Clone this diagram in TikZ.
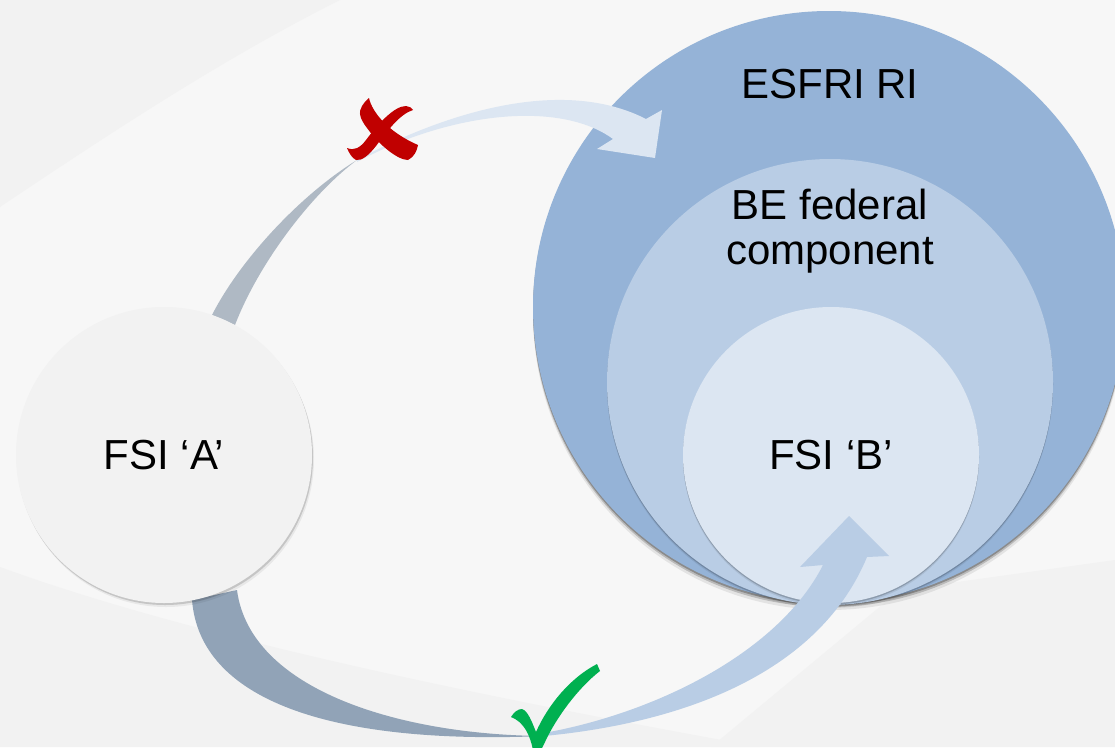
\documentclass[tikz,border=0pt]{standalone}
\usepackage{fontspec}
\setmainfont{Liberation Sans}
\usetikzlibrary{shadows}
\definecolor{bgbase}{HTML}{F7F7F7}
\definecolor{bgdark}{HTML}{F2F2F2}
\definecolor{esfricol}{HTML}{95B3D7}
\definecolor{becol}{HTML}{B9CDE5}
\definecolor{fsibcol}{HTML}{DCE6F2}
\definecolor{fsiacol}{HTML}{F2F2F2}
\definecolor{tgrey}{HTML}{AFB9C4}
\definecolor{tblue}{HTML}{DCE6F2}
\definecolor{bgrey}{HTML}{91A3B7}
\definecolor{bblue}{HTML}{B9CDE5}
\definecolor{xred}{HTML}{C00000}
\definecolor{okgreen}{HTML}{00B050}
\begin{document}
\begin{tikzpicture}[x=1pt,y=-1pt,
  disc/.style={circle,inner sep=0pt,draw=none},
  lbl/.style={font=\fontsize{42}{45}\selectfont,text=black,align=center,inner sep=0pt},
  bigshadow/.style={
    drop shadow={shadow xshift=0pt,shadow yshift=-2pt,opacity=0.25,fill=black},
    drop shadow={shadow xshift=0pt,shadow yshift=-4pt,opacity=0.18,fill=black},
    drop shadow={shadow xshift=0pt,shadow yshift=-7pt,opacity=0.08,fill=black}},
  layershadow/.style={
    drop shadow={shadow xshift=0pt,shadow yshift=-1.5pt,opacity=0.18,fill=black},
    drop shadow={shadow xshift=0pt,shadow yshift=-3pt,opacity=0.08,fill=black}},
  softshadow/.style={
    drop shadow={shadow xshift=1pt,shadow yshift=-2pt,opacity=0.15,fill=black},
    drop shadow={shadow xshift=2pt,shadow yshift=-4pt,opacity=0.06,fill=black}}]
\useasboundingbox (0,0) rectangle (1115,747);
\begin{scope}
\clip (0,0) rectangle (1115,747);
% background
\fill[bgbase] (0,0) rectangle (1115,747);
\fill[bgdark] (0,0) -- (340,0) .. controls (220,60) and (100,140) .. (0,207) -- cycle;
\fill[bgdark] (0,567) .. controls (200,640) and (500,700) .. (760,747) -- (0,747) -- cycle;
\fill[bgdark] (711,747) -- (900,590) -- (1115,560) -- (1115,747) -- cycle;
% nested circles
\node[disc,fill=esfricol,minimum size=592pt,bigshadow] (esfri) at (829,307) {};
\node[disc,fill=becol,minimum size=446pt,layershadow] (be) at (830,382) {};
\node[disc,fill=fsibcol,minimum size=296pt,layershadow,lbl] (fsib) at (831,455) {FSI ‘B’};
\node[lbl,anchor=base] (esfril) at (830,98) {ESFRI RI};
\node[lbl] (bel) at (830,231) {BE federal\\component};
% top arrow (rejected path)
\fill[tgrey] (212,315) .. controls (240,260) and (300,195) .. (357,160)
   .. controls (310,195) and (258,265) .. (235,325) -- cycle;
\fill[tblue] (357,160) .. controls (440,115) and (560,75) .. (646,119)
   -- (662,110) -- (655,158) -- (597,149) -- (613,139)
   .. controls (560,100) and (450,112) .. (357,162) -- cycle;
% bottom arrow (accepted path)
\fill[bgrey] (192,600) .. controls (200,700) and (330,745) .. (544,736)
   .. controls (400,735) and (250,690) .. (237,590) -- cycle;
\fill[bblue] (544,736) .. controls (690,722) and (820,670) .. (867,557)
   -- (889,556) -- (849,516) -- (800,567) -- (823,565)
   .. controls (780,650) and (660,712) .. (544,733) -- cycle;
% red cross: falling stroke
\fill[xred] (369,98) .. controls (372,112) and (388,132) .. (418,145)
   .. controls (417,151) and (414,157) .. (408,160)
   .. controls (398,160) and (380,146) .. (367,128)
   .. controls (360,119) and (358,112) .. (362,106)
   .. controls (364,103) and (366,100) .. (369,98) -- cycle;
% red cross: rising stroke
\fill[xred] (347,148) .. controls (354,151) and (360,148) .. (366,140)
   .. controls (378,124) and (394,106) .. (406,106)
   .. controls (409,106) and (412,108) .. (413,110)
   .. controls (400,114) and (388,130) .. (376,146)
   .. controls (369,155) and (362,161) .. (356,160)
   .. controls (352,158) and (349,153) .. (347,148) -- cycle;
% green check
\fill[okgreen] (511,717) .. controls (514,712) and (518,709) .. (522,709)
   .. controls (528,711) and (532,722) .. (536,732)
   .. controls (548,705) and (570,678) .. (597,664)
   -- (600,671)
   .. controls (578,688) and (556,718) .. (545,742)
   -- (541,750) -- (533,750)
   .. controls (530,735) and (524,722) .. (511,717) -- cycle;
% FSI A
\node[disc,fill=fsiacol,minimum size=296pt,softshadow,lbl] (fsia) at (164,455) {FSI ‘A’};
\end{scope}
\end{tikzpicture}
\end{document}
